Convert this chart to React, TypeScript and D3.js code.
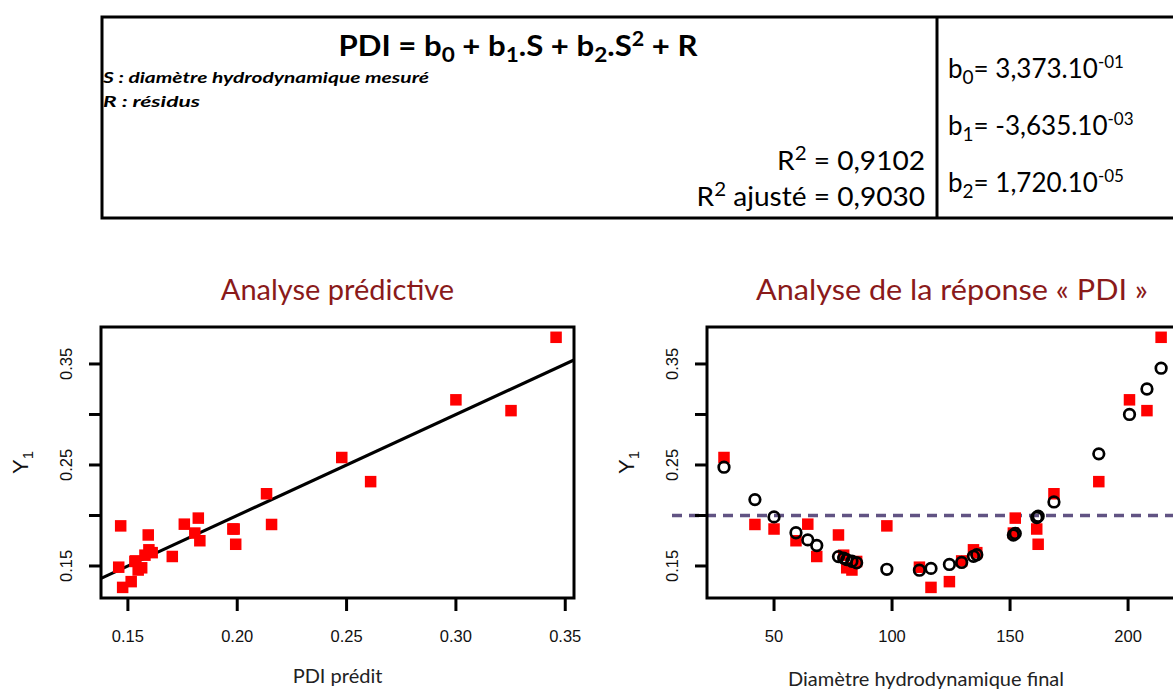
import React from 'react';
import * as d3 from 'd3';

// ---- data ----
const diameter = [28.8, 41.9, 50.0, 59.3, 64.3, 68.1, 77.3, 79.5, 80.8, 83.0, 85.0, 97.8, 111.6, 116.5, 124.3, 129.5, 134.5, 135.9, 151.4, 152.2, 161.3, 161.9, 168.6, 187.6, 200.6, 208.0, 214.0];
const predictedPDI = [0.2478, 0.2157, 0.1986, 0.1829, 0.1758, 0.1703, 0.1593, 0.1578, 0.1563, 0.1547, 0.1532, 0.1467, 0.1458, 0.1476, 0.1515, 0.1535, 0.1596, 0.1611, 0.1806, 0.1822, 0.1980, 0.1993, 0.2134, 0.2610, 0.3000, 0.3252, 0.3458];
const observedPDI = [0.2574, 0.1911, 0.1866, 0.1750, 0.1914, 0.1594, 0.1807, 0.1607, 0.1482, 0.1460, 0.1545, 0.1897, 0.1488, 0.1288, 0.1345, 0.1550, 0.1660, 0.1632, 0.1826, 0.1974, 0.1866, 0.1715, 0.2215, 0.2335, 0.3145, 0.3038, 0.3764];

const leftXTicks = [0.15, 0.20, 0.25, 0.30, 0.35];
const yTicks = [0.15, 0.20, 0.25, 0.30, 0.35];
const yLabeled = [0.15, 0.25, 0.35];
const rightXTicks = [50, 100, 150, 200];
const fitLine = { intercept: 0, slope: 1 };
const threshold = 0.2;

const leftXDomain = [0.1377, 0.354];
const yDomain = [0.1183, 0.3866];
const rightXDomain = [21.6, 222.0];

const coefNames = ['0', '1', '2'];
const coefMantissa = ['3,373.10', '-3,635.10', '1,720.10'];
const coefExp = ['-01', '-03', '-05'];

const CAL = 'Lato, "Open Sans", sans-serif';
const ARIAL = '"Liberation Sans", Arial, sans-serif';
const RED = '#ff0000';
const TITLE = '#8a1a1a';

const PT = 327, PB = 598;
const L0 = 101, L1 = 574;
const R0 = 707, R1 = 1180;

function YAxis({ x0, y }: { x0: number; y: d3.ScaleLinear<number, number> }) {
  return (
    <g>
      {yTicks.map((t) => (
        <line key={t} x1={x0 - 12} x2={x0} y1={y(t)} y2={y(t)} stroke="#000" strokeWidth={3} />
      ))}
      {yLabeled.map((t) => (
        <text key={t} transform={`translate(${x0 - 29},${y(t)}) rotate(-90)`} textAnchor="middle" fontFamily={ARIAL} fontSize={16.5} fill="#111">
          {d3.format('.2f')(t)}
        </text>
      ))}
      <text transform={`translate(${x0 - 73},${(PT + PB) / 2}) rotate(-90)`} textAnchor="middle" fontFamily={ARIAL} fontSize={22} fill="#111">
        Y<tspan fontSize={15} dy={5}>1</tspan>
      </text>
    </g>
  );
}

export default function App() {
  const xL = d3.scaleLinear().domain(leftXDomain).range([L0, L1]);
  const y = d3.scaleLinear().domain(yDomain).range([PB, PT]);
  const xR = d3.scaleLinear().domain(rightXDomain).range([R0, R1]);
  const sq = 11.5;

  const lineGen = d3.line<number>().x((d) => xL(d)).y((d) => y(fitLine.intercept + fitLine.slope * d));

  return (
    <svg width={1173} height={691} style={{ position: 'absolute', left: 0, top: 0, background: '#fff' }}>
      <rect width={1173} height={691} fill="#fff" />
      {/* header box */}
      <rect x={102} y={17} width={1100} height={201} fill="none" stroke="#000" strokeWidth={3} />
      <line x1={937} x2={937} y1={17} y2={218} stroke="#000" strokeWidth={3} />
      <g transform="translate(518,56) scale(1.075,1)">
        <text x={0} y={0} textAnchor="middle" fontFamily={CAL} fontWeight="bold" fontSize={29} fill="#000">
          PDI = b<tspan fontSize={21} dy={6}>0</tspan>
          <tspan dy={-6}> + b</tspan><tspan fontSize={21} dy={6}>1</tspan>
          <tspan dy={-6}>.S + b</tspan><tspan fontSize={21} dy={6}>2</tspan>
          <tspan dy={-6}>.S</tspan><tspan fontSize={20} dy={-10}>2</tspan>
          <tspan dy={10}> + R</tspan>
        </text>
      </g>
      <text x={103} y={83} fontFamily={CAL} fontWeight="bold" fontStyle="italic" fontSize={15} textLength={326} lengthAdjust="spacingAndGlyphs" fill="#000">
        S : diamètre hydrodynamique mesuré
      </text>
      <text x={103} y={107} fontFamily={CAL} fontWeight="bold" fontStyle="italic" fontSize={15} textLength={97} lengthAdjust="spacingAndGlyphs" fill="#000">
        R : résidus
      </text>
      <g transform="translate(925,170) scale(1.08,1)">
        <text x={0} y={0} textAnchor="end" fontFamily={CAL} fontSize={26} fill="#000">
          R<tspan fontSize={19} dy={-10}>2</tspan><tspan dy={10}> = 0,9102</tspan>
        </text>
      </g>
      <g transform="translate(925,206) scale(1.08,1)">
        <text x={0} y={0} textAnchor="end" fontFamily={CAL} fontSize={26} fill="#000">
          R<tspan fontSize={19} dy={-10}>2</tspan><tspan dy={10}> ajusté = 0,9030</tspan>
        </text>
      </g>
      {coefNames.map((n, i) => (
        <g key={n} transform={`translate(948,${78 + i * 57}) scale(1.0,1)`}>
          <text x={0} y={0} fontFamily={CAL} fontSize={26} fill="#000">
            b<tspan fontSize={19} dy={6}>{n}</tspan>
            <tspan dy={-6}>= {coefMantissa[i]}</tspan>
            <tspan fontSize={17} dy={-10}>{coefExp[i]}</tspan>
          </text>
        </g>
      ))}

      {/* titles */}
      <text x={(L0 + L1) / 2} y={300} textAnchor="middle" fontFamily={CAL} fontSize={29} fill={TITLE}>Analyse prédictive</text>
      <text x={952} y={300} textAnchor="middle" fontFamily={CAL} fontSize={29} textLength={392} lengthAdjust="spacingAndGlyphs" fill={TITLE}>Analyse de la réponse « PDI »</text>

      {/* left plot */}
      <defs>
        <clipPath id="clipL"><rect x={L0} y={PT} width={L1 - L0} height={PB - PT} /></clipPath>
      </defs>
      <path d={lineGen(leftXDomain) || ''} stroke="#000" strokeWidth={3.2} fill="none" clipPath="url(#clipL)" />
      {predictedPDI.map((p, i) => (
        <rect key={i} x={xL(p) - sq / 2} y={y(observedPDI[i]) - sq / 2} width={sq} height={sq} fill={RED} />
      ))}
      <rect x={L0} y={PT} width={L1 - L0} height={PB - PT} fill="none" stroke="#000" strokeWidth={3} />
      <YAxis x0={L0} y={y} />
      {leftXTicks.map((t) => (
        <g key={t}>
          <line x1={xL(t)} x2={xL(t)} y1={PB} y2={PB + 13} stroke="#000" strokeWidth={3} />
          <text x={xL(t)} y={642} textAnchor="middle" fontFamily={ARIAL} fontSize={16.5} fill="#111">{d3.format('.2f')(t)}</text>
        </g>
      ))}
      <text x={(L0 + L1) / 2} y={683} textAnchor="middle" fontFamily={CAL} fontSize={20} fill="#222">PDI prédit</text>

      {/* right plot */}
      <line x1={R0 - 35} x2={1173} y1={y(threshold)} y2={y(threshold)} stroke="#615383" strokeWidth={3.5} strokeDasharray="10 7" />
      {diameter.map((d, i) => (
        <rect key={i} x={xR(d) - sq / 2} y={y(observedPDI[i]) - sq / 2} width={sq} height={sq} fill={RED} />
      ))}
      {diameter.map((d, i) => (
        <circle key={i} cx={xR(d)} cy={y(predictedPDI[i])} r={5.3} fill="none" stroke="#000" strokeWidth={2.7} />
      ))}
      <rect x={R0} y={PT} width={R1 - R0} height={PB - PT} fill="none" stroke="#000" strokeWidth={3} />
      <YAxis x0={R0} y={y} />
      {rightXTicks.map((t) => (
        <g key={t}>
          <line x1={xR(t)} x2={xR(t)} y1={PB} y2={PB + 13} stroke="#000" strokeWidth={3} />
          <text x={xR(t)} y={642} textAnchor="middle" fontFamily={ARIAL} fontSize={16.5} fill="#111">{t}</text>
        </g>
      ))}
      <text x={926} y={686} textAnchor="middle" fontFamily={CAL} fontSize={20} fill="#222">Diamètre hydrodynamique final</text>
    </svg>
  );
}
